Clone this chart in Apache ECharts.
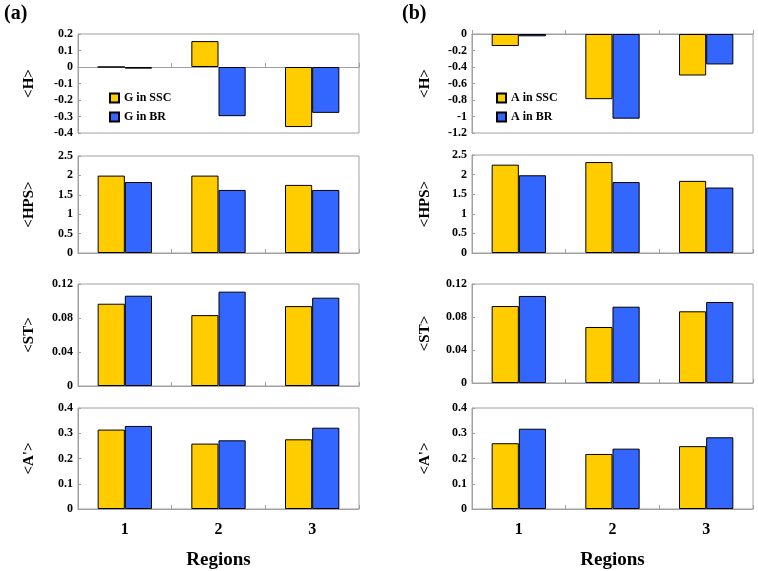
<!DOCTYPE html>
<html><head><meta charset="utf-8">
<script src="https://cdn.jsdelivr.net/npm/echarts@6/dist/echarts.min.js"></script>
<style>html,body{margin:0;padding:0;background:#fff}#c{width:758px;height:571px}</style>
</head><body><div id="c"></div>
<script>
const regions = ['1', '2', '3'];
// Panel (a): G
const aH_SSC = [0, 0.157, -0.364];
const aH_BR = [-0.01, -0.298, -0.278];
const aHPS_SSC = [1.995, 1.995, 1.755];
const aHPS_BR = [1.83, 1.625, 1.625];
const aST_SSC = [0.0968, 0.0834, 0.094];
const aST_BR = [0.1062, 0.111, 0.1039];
const aA_SSC = [0.3145, 0.259, 0.276];
const aA_BR = [0.329, 0.272, 0.322];
// Panel (b): A
const bH_SSC = [-0.146, -0.79, -0.503];
const bH_BR = [-0.028, -1.026, -0.369];
const bHPS_SSC = [2.254, 2.32, 1.84];
const bHPS_BR = [1.983, 1.81, 1.67];
const bST_SSC = [0.0933, 0.0679, 0.0869];
const bST_BR = [0.1055, 0.0925, 0.0982];
const bA_SSC = [0.2605, 0.218, 0.249];
const bA_BR = [0.318, 0.239, 0.284];

const yNames = ['<H>', '<HPS>', '<ST>', "<A'>"];
const aRanges = [[-0.4, 0.2, 0.1], [0, 2.5, 0.5], [0, 0.12, 0.04], [0, 0.4, 0.1]];
const bRanges = [[-1.2, 0, 0.2], [0, 2.5, 0.5], [0, 0.12, 0.04], [0, 0.4, 0.1]];

const SERIF = '"Liberation Serif","Times New Roman",serif';
const YEL = '#FFCC00', BLU = '#3366FF';

const aRows = [[34, 99], [156, 97], [284, 102], [408, 101]];
const bRows = [[34, 99], [155, 98], [284, 99], [408, 101]];

const grids = [], xAxes = [], yAxes = [], series = [];
function addPanel(left, rows, ranges, ssc, br, nSSC, nBR, nameGap) {
  rows.forEach((r, i) => {
    const gi = grids.length;
    grids.push({left: left, top: r[0], width: 281, height: r[1], show: true, borderColor: '#a0a0a0', borderWidth: 1, containLabel: false});
    const last = i === rows.length - 1;
    xAxes.push({type: 'category', gridIndex: gi, data: regions,
      axisLine: {onZero: true, lineStyle: {color: '#a0a0a0', width: 1}},
      axisTick: {show: true, inside: true, length: 4, lineStyle: {color: '#a0a0a0'}},
      axisLabel: {show: last, margin: 13, fontFamily: SERIF, fontWeight: 'bold', fontSize: 16, color: '#000'},
      name: last ? 'Regions' : '', nameLocation: 'middle', nameGap: 42,
      nameTextStyle: {fontFamily: SERIF, fontWeight: 'bold', fontSize: 19, color: '#000'}
    });
    yAxes.push({type: 'value', gridIndex: gi, min: ranges[i][0], max: ranges[i][1], interval: ranges[i][2],
      splitLine: {show: false}, axisLine: {show: true, lineStyle: {color: '#a0a0a0'}},
      axisTick: {show: true, inside: true, length: 3, lineStyle: {color: '#a0a0a0'}},
      axisLabel: {fontFamily: SERIF, fontWeight: 'bold', fontSize: 12, color: '#000', margin: 5},
      name: yNames[i], nameLocation: 'middle', nameGap: nameGap, nameRotate: 90,
      nameTextStyle: {fontFamily: SERIF, fontWeight: 'bold', fontSize: 15, color: '#000'}
    });
    series.push({type: 'bar', name: nSSC, xAxisIndex: gi, yAxisIndex: gi, data: ssc[i],
      barGap: '0%', barCategoryGap: '42%', itemStyle: {color: YEL, borderColor: '#000', borderWidth: 1}, silent: true, animation: false});
    series.push({type: 'bar', name: nBR, xAxisIndex: gi, yAxisIndex: gi, data: br[i],
      barGap: '0%', barCategoryGap: '42%', itemStyle: {color: BLU, borderColor: '#000', borderWidth: 1}, silent: true, animation: false});
  });
}
addPanel(78, aRows, aRanges, [aH_SSC, aHPS_SSC, aST_SSC, aA_SSC], [aH_BR, aHPS_BR, aST_BR, aA_BR], 'G in SSC', 'G in BR', 41);
addPanel(472, bRows, bRanges, [bH_SSC, bHPS_SSC, bST_SSC, bA_SSC], [bH_BR, bHPS_BR, bST_BR, bA_BR], 'A in SSC', 'A in BR', 39);

const legendCommon = {orient: 'vertical', icon: 'rect', itemWidth: 9, itemHeight: 9, itemGap: 7,
  textStyle: {fontFamily: SERIF, fontWeight: 'bold', fontSize: 12, color: '#000'}, selectedMode: false};

const chart = echarts.init(document.getElementById('c'), null, {renderer: 'canvas'});
chart.setOption({
  backgroundColor: '#fff',
  animation: false,
  grid: grids, xAxis: xAxes, yAxis: yAxes, series: series,
  legend: [
    Object.assign({}, legendCommon, {left: 104, top: 87, data: ['G in SSC', 'G in BR']}),
    Object.assign({}, legendCommon, {left: 491, top: 87, data: ['A in SSC', 'A in BR']})
  ],
  graphic: [
    {type: 'text', left: 4, top: 4, style: {text: '(a)', font: 'bold 20px ' + SERIF, fill: '#000'}},
    {type: 'text', left: 402, top: 4, style: {text: '(b)', font: 'bold 20px ' + SERIF, fill: '#000'}}
  ]
});
</script></body></html>
